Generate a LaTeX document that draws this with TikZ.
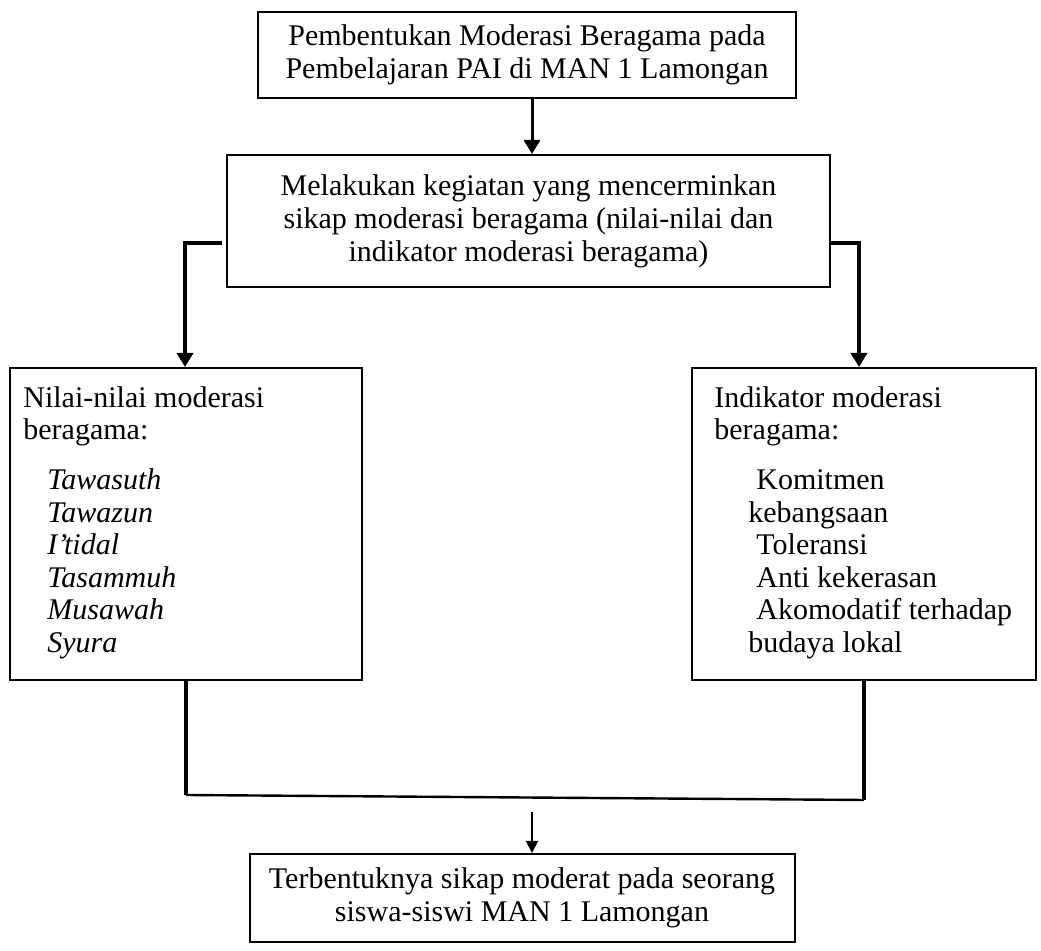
\documentclass[tikz,border=0pt]{standalone}
\usepackage{fontspec}
\setmainfont{Liberation Serif}
\usetikzlibrary{arrows.meta}

\tikzset{
  box/.style={draw, line width=1pt, inner sep=0pt, font=\fontsize{15pt}{16.5pt}\selectfont, align=center},
  txt/.style={inner sep=0pt, font=\fontsize{15pt}{16.25pt}\selectfont, align=left, anchor=north west},
  conn/.style={line width=2pt},
  arr/.style={line width=2pt, -{Triangle[width=8pt,length=7pt]}},
  arrthin/.style={line width=1pt, -{Triangle[width=6pt,length=6pt]}}
}

\begin{document}
\begin{tikzpicture}[x=0.5pt,y=-0.5pt]
\useasboundingbox (0,0) rectangle (1041,951);
\node[box, minimum width=269pt, minimum height=43pt] (top) at (527,55) {Pembentukan Moderasi Beragama pada\\ Pembelajaran PAI di MAN 1 Lamongan};
\node[box, minimum width=301.5pt, minimum height=66pt] (mid) at (528.5,221) {Melakukan kegiatan yang mencerminkan\\ sikap moderasi beragama (nilai-nilai dan\\ indikator moderasi beragama)};
\node[box, minimum width=176pt, minimum height=156pt] (nilai) at (186,524) {};
\node[box, minimum width=172pt, minimum height=156pt] (indik) at (864,524) {};
\node[box, minimum width=272.5pt, minimum height=44pt] (akhir) at (522,898) {Terbentuknya sikap moderat pada seorang\\ siswa-siswi MAN 1 Lamongan};
% isi kotak kiri dan kanan
\node[txt] (nilaitxt) at (23,386) {Nilai-nilai moderasi\\ beragama:\\[8.75pt] \hspace*{12pt}\textit{Tawasuth}\\ \hspace*{12pt}\textit{Tawazun}\\ \hspace*{12pt}\textit{I’tidal}\\ \hspace*{12pt}\textit{Tasammuh}\\ \hspace*{12pt}\textit{Musawah}\\ \hspace*{12pt}\textit{Syura}};
\node[txt] (indiktxt) at (714,386) {Indikator moderasi\\ beragama:\\[8.75pt] \hspace*{21pt}Komitmen\\ \hspace*{17pt}kebangsaan\\ \hspace*{21pt}Toleransi\\ \hspace*{21pt}Anti kekerasan\\ \hspace*{21pt}Akomodatif terhadap\\ \hspace*{17pt}budaya lokal};
% panah
\coordinate (lk) at (185,243);\coordinate (rk) at (859,243);
\coordinate (jl) at (186,795);\coordinate (jr) at (864,800);\coordinate (ba) at (532,812);
\draw[line width=1.5pt, -{Triangle[width=8pt,length=7pt]}] ([xshift=2.5pt]top.south) -- ([xshift=2.5pt]top.south |- mid.north);
\draw[arr] ([xshift=-2pt]mid.west |- lk) -- (lk) -- (lk |- nilai.north);
\draw[arr] (mid.east |- rk) -- (rk) -- (rk |- indik.north);
\draw[conn] (nilai.south -| jl) -- (jl);\draw[conn] (indik.south -| jr) -- (jr);
\draw[line width=1.2pt] (jl) -- (jr);
\draw[arrthin] (ba) -- (ba |- akhir.north);
\end{tikzpicture}
\end{document}
